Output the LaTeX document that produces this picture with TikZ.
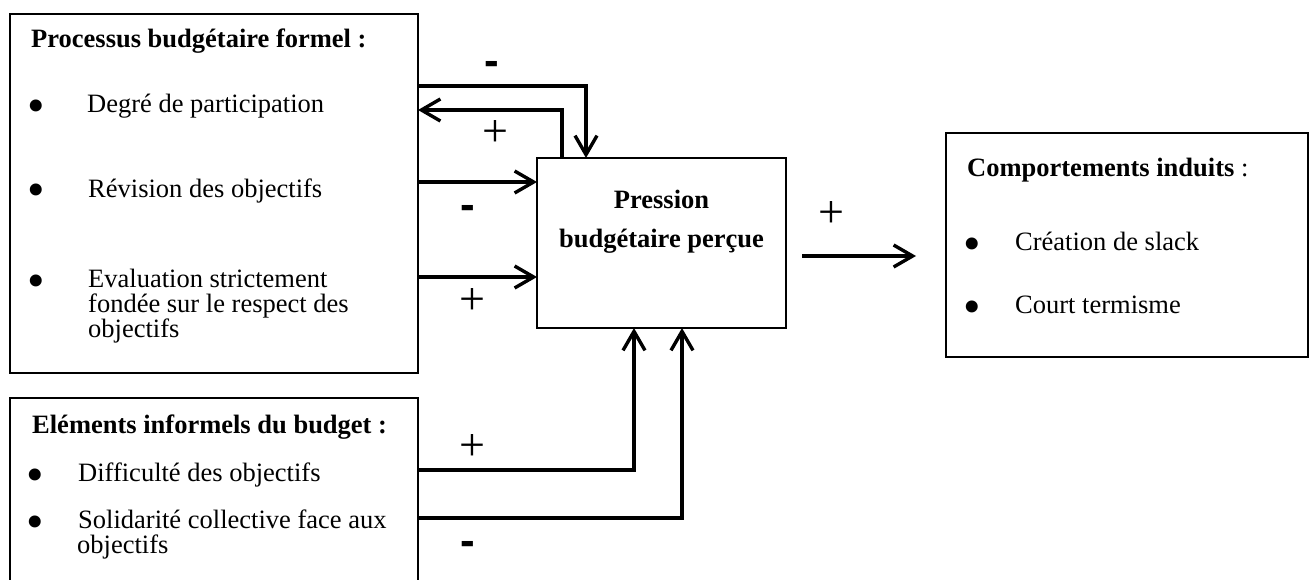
\documentclass[tikz,border=0pt]{standalone}
\usepackage{fontspec}
\setmainfont{Liberation Serif}
\newfontfamily\dashfont{Liberation Sans}
\usetikzlibrary{arrows.meta}
\begin{document}
\begin{tikzpicture}[x=1pt,y=-1pt,
  box/.style={draw, line width=1.8pt, inner sep=0pt, outer sep=0pt},
  txt/.style={anchor=base west, inner sep=0pt, font=\fontsize{26.5}{25}\selectfont},
  bul/.style={anchor=base west, inner sep=0pt, font=\fontsize{50}{50}\selectfont},
  btxt/.style={anchor=base west, inner sep=0pt, font=\fontsize{26.5}{25}\selectfont\bfseries},
  ctxt/.style={anchor=base, inner sep=0pt, font=\fontsize{26.5}{25}\selectfont\bfseries},
  arr/.style={line width=3.4pt, -{Straight Barb[length=19pt,width=22pt]}},
  plus/.style={inner sep=0pt, font=\fontsize{46}{46}\selectfont},
  minus/.style={inner sep=0pt, font=\dashfont\bfseries\fontsize{44}{44}\selectfont}]
\useasboundingbox (0,0) rectangle (1316,580);

% boxes
\node[box, minimum width=408pt, minimum height=359pt] (pf) at (214,193.5) {};
\node[box, minimum width=408pt, minimum height=186pt] (inf) at (214,491) {};
\node[box, minimum width=249pt, minimum height=170pt] (press) at (661.5,243) {};
\node[box, minimum width=362pt, minimum height=224pt] (comp) at (1127,245) {};

% box 1 text
\node[btxt] (pfh) at (31,48) {Processus budgétaire formel :};
\node[bul] (pfb1) at (27,123) {•};
\node[txt] (pft1) at (87,113) {Degré de participation};
\node[bul] (pfb2) at (27,207) {•};
\node[txt] (pft2) at (88,197) {Révision des objectifs};
\node[bul] (pfb3) at (27,297) {•};
\node[txt] (pft3a) at (88,287) {Evaluation strictement};
\node[txt] (pft3b) at (88,312) {fondée sur le respect des};
\node[txt] (pft3c) at (88,337) {objectifs};

% bottom box text
\node[btxt] (infh) at (32,433) {Eléments informels du budget :};
\node[bul] (infb1) at (26,491) {•};
\node[txt] (inft1) at (78,481) {Difficulté des objectifs};
\node[bul] (infb2) at (26,538) {•};
\node[txt] (inft2a) at (78,528) {Solidarité collective face aux};
\node[txt] (inft2b) at (77,553) {objectifs};

% center text
\node[ctxt] (pr1) at (661.5,208) {Pression};
\node[ctxt] (pr2) at (661.5,247) {budgétaire perçue};

% right box text
\node[txt] (comph) at (967,177) {\textbf{Comportements induits} :};
\node[bul] (compb1) at (963,260) {•};
\node[txt] (compt1) at (1015,250) {Création de slack};
\node[bul] (compb2) at (963,323) {•};
\node[txt] (compt2) at (1015,313) {Court termisme};

% connectors
\draw[arr] (pf.east |- 0,86) -| (press.north -| 586,0);
\draw[arr] (press.north -| 562,0) |- (pf.east |- 0,110);
\draw[arr] (pf.east |- 0,182) -- (press.west |- 0,182);
\draw[arr] (pf.east |- 0,277) -- (press.west |- 0,277);
\draw[arr] (inf.east |- 0,470) -| (press.south -| 634,0);
\draw[arr] (inf.east |- 0,518) -| (press.south -| 682,0);
\coordinate (ra) at (802,256);
\coordinate (rb) at (916,256);
\draw[arr] (ra) -- (rb);

% signs
\node[minus] (s1) at (492,68) {-};
\node[plus] (s2) at (495,134) {+};
\node[minus] (s3) at (468,212) {-};
\node[plus] (s4) at (472,302) {+};
\node[plus] (s5) at (472,448) {+};
\node[minus] (s6) at (468,548) {-};
\node[plus] (s7) at (831,215) {+};
\end{tikzpicture}
\end{document}
